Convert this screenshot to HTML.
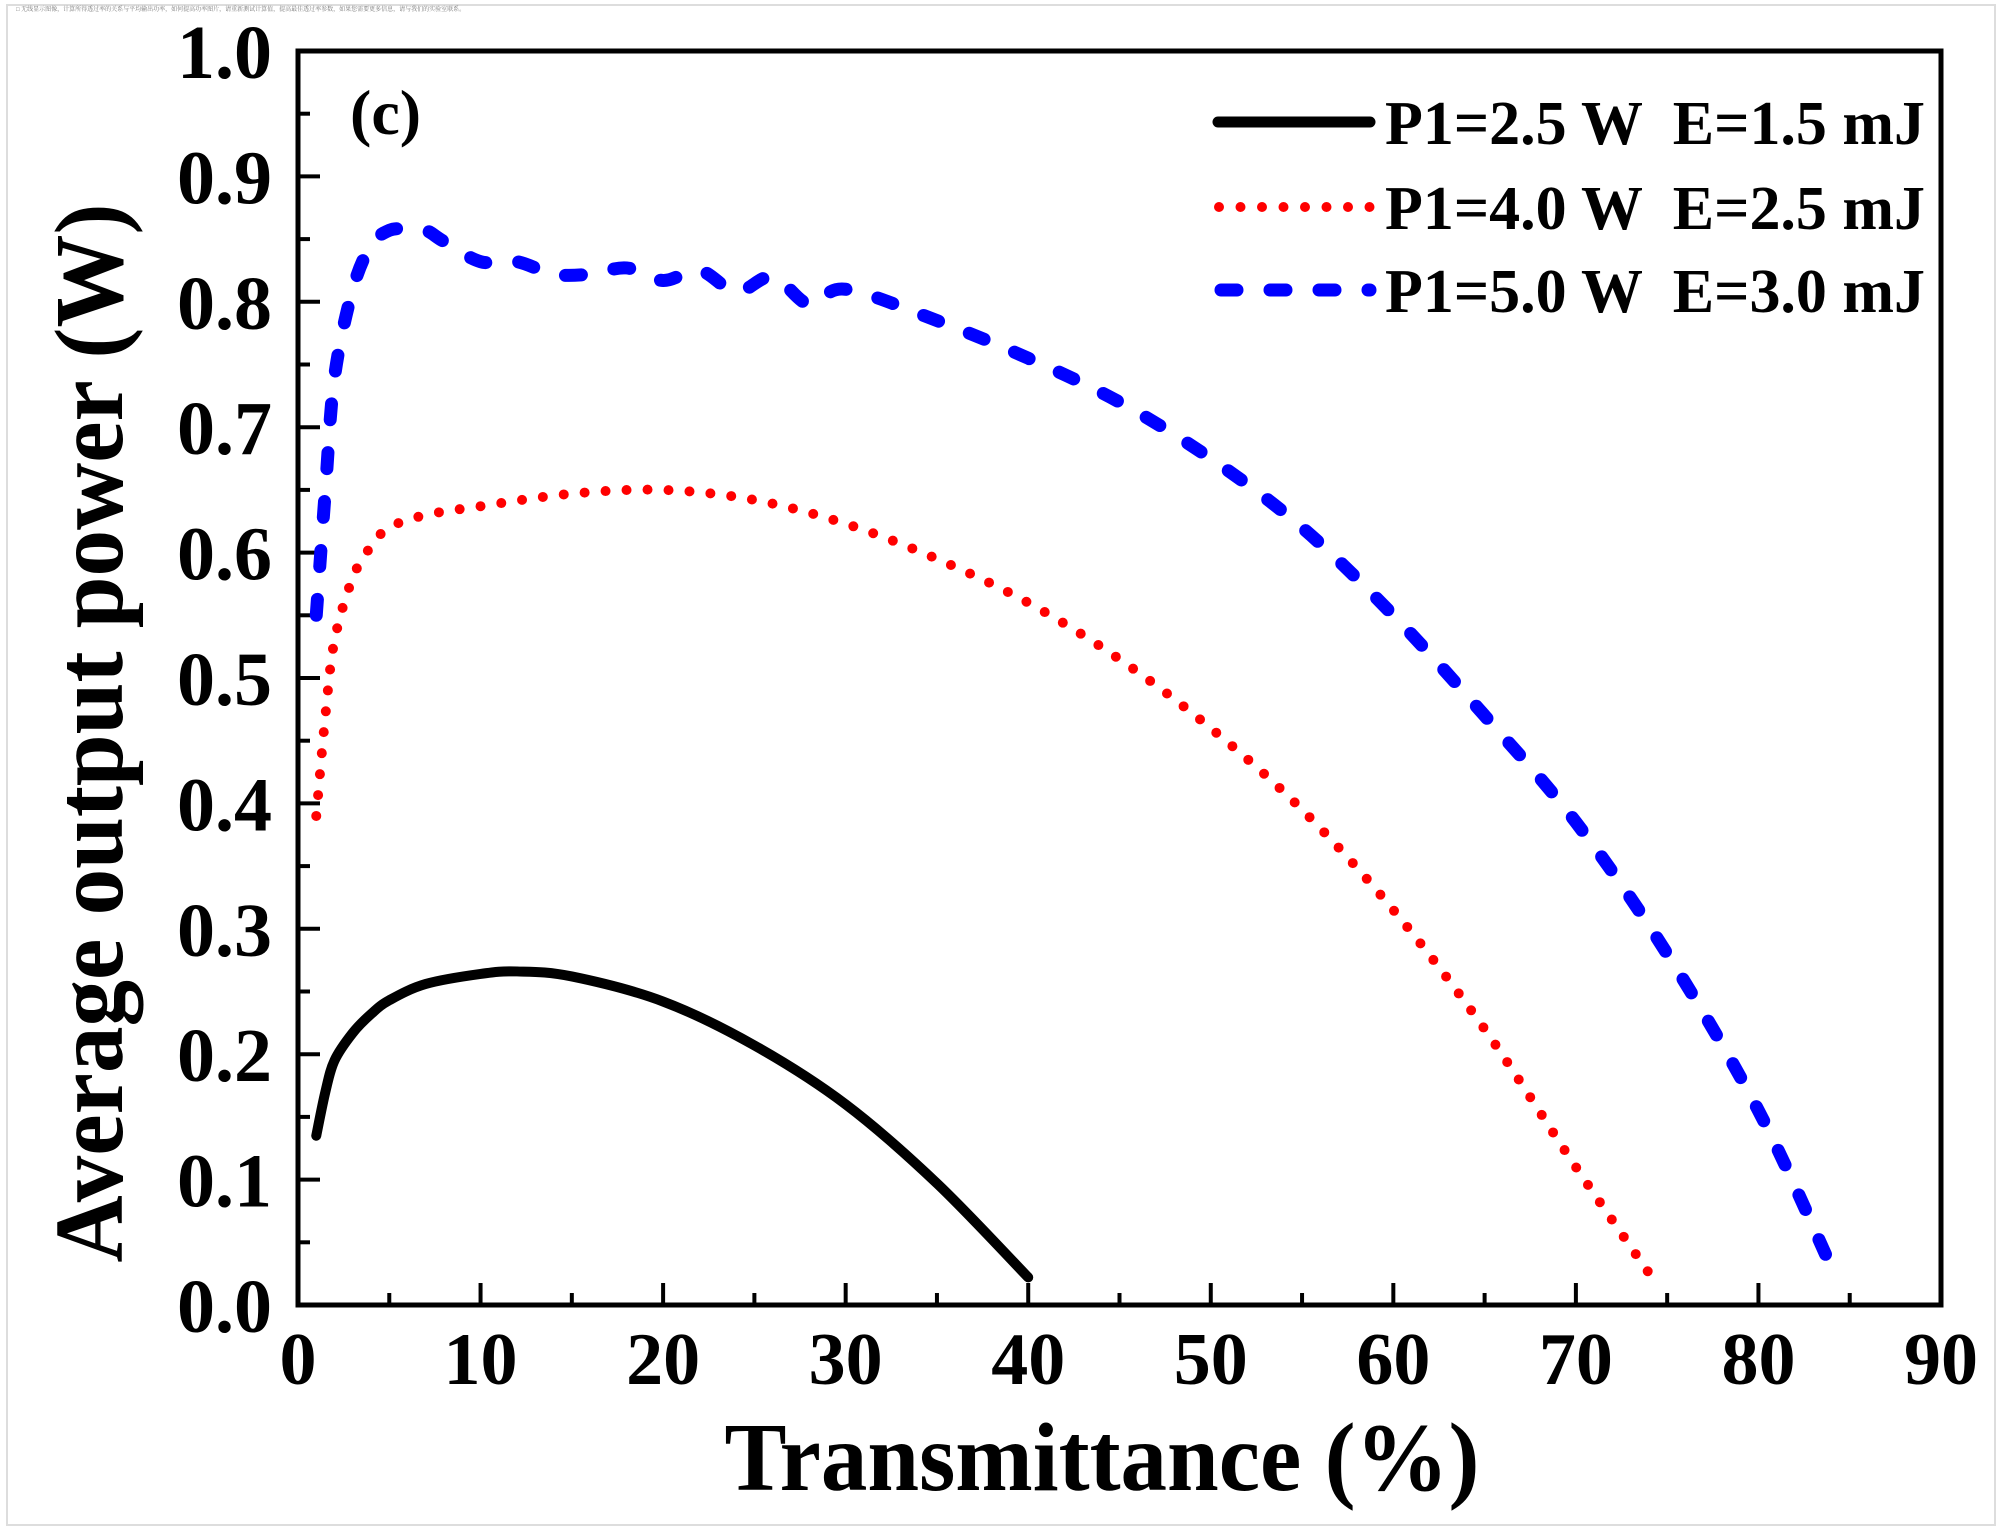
<!DOCTYPE html>
<html><head><meta charset="utf-8"><style>
html,body{margin:0;padding:0;background:#fff;}
svg{display:block;}
text{font-family:"Liberation Serif","Noto Serif CJK SC",serif;font-weight:bold;fill:#000;white-space:pre;}
</style></head><body>
<svg id="chart" width="2000" height="1530" viewBox="0 0 2000 1530" xmlns="http://www.w3.org/2000/svg">
<rect x="7" y="5" width="1988" height="1520" fill="none" stroke="#ddd" stroke-width="2"/>
<text x="16" y="11" style="font-size:6px;font-weight:normal;fill:#777">□ 无线显示图像，计算所得透过率的关系与平均输出功率，如何提高功率图片，请重新测试计算值，提高最佳透过率参数，如果您需要更多信息，请与我们的实验室联系。</text>
<g id="plot"></g>
<rect x="298" y="51" width="1643" height="1254" fill="none" stroke="#000" stroke-width="5"/>
<text x="350" y="134" style="font-size:64px">(c)</text>
<text x="1102" y="1490" text-anchor="middle" style="font-size:97px" textLength="755" lengthAdjust="spacingAndGlyphs">Transmittance (%)</text>
<text transform="translate(122,733) rotate(-90)" text-anchor="middle" style="font-size:97px" textLength="1059" lengthAdjust="spacingAndGlyphs">Average output power (W)</text>
<g>
<line x1="1218" y1="122" x2="1370" y2="122" stroke="#000" stroke-width="11" stroke-linecap="round"/>
<text x="1385" y="144" style="font-size:62px" textLength="540" lengthAdjust="spacingAndGlyphs">P1=2.5 W  E=1.5 mJ</text>
<line x1="1219" y1="207" x2="1370" y2="207" stroke="#f00" stroke-width="10" stroke-linecap="round" stroke-dasharray="0 21.5"/>
<text x="1385" y="229" style="font-size:62px" textLength="540" lengthAdjust="spacingAndGlyphs">P1=4.0 W  E=2.5 mJ</text>
<line x1="1221" y1="290" x2="1370" y2="290" stroke="#00f" stroke-width="13" stroke-linecap="round" stroke-dasharray="16 33"/>
<text x="1385" y="312" style="font-size:62px" textLength="540" lengthAdjust="spacingAndGlyphs">P1=5.0 W  E=3.0 mJ</text>
</g>
</svg>
<script>
const xTicks=[0,10,20,30,40,50,60,70,80,90];
const yTicks=[0.0,0.1,0.2,0.3,0.4,0.5,0.6,0.7,0.8,0.9,1.0];
const blackX=[1,1.5,2,3,4,5,7,10,12,15,20,25,30,35,40];
const blackY=[0.135,0.17,0.195,0.217,0.232,0.243,0.256,0.264,0.266,0.262,0.242,0.207,0.16,0.097,0.022];
const redX=[1,1.5,2,3,4,5,7,10,15,20,25,30,35,40,45,50,55,60,65,70,74.5];
const redY=[0.39,0.47,0.53,0.58,0.605,0.62,0.63,0.637,0.647,0.65,0.642,0.623,0.595,0.56,0.515,0.46,0.395,0.315,0.22,0.11,0.015];
const blueX=[1,1.5,2,3,4,5,6,7,8,10,12,14,16,18,20,22,24,26,28,30,35,40,45,50,55,60,65,70,75,80,84];
const blueY=[0.55,0.65,0.74,0.81,0.845,0.857,0.858,0.857,0.848,0.832,0.832,0.822,0.822,0.827,0.817,0.825,0.808,0.82,0.798,0.81,0.785,0.755,0.72,0.675,0.62,0.55,0.47,0.385,0.28,0.155,0.03];
const L=298,R=1941,T=51,B=1305;
const sx=v=>L+(v-0)/(90-0)*(R-L);
const sy=v=>B-(v-0)/(1-0)*(B-T);
const NS='http://www.w3.org/2000/svg';
const g=document.getElementById('plot');
function mk(tag,attrs){const e=document.createElementNS(NS,tag);for(const k in attrs)e.setAttribute(k,attrs[k]);g.appendChild(e);return e;}
xTicks.forEach((v,i)=>{
  const t=mk('line',{x1:sx(v),x2:sx(v),y1:B,y2:B-22,stroke:'#000','stroke-width':4});
  
  
  if(i<xTicks.length-1){const m=mk('line',{x1:sx(v+5),x2:sx(v+5),y1:B,y2:B-12,stroke:'#000','stroke-width':4});
  
  }
  const lb=mk('text',{x:sx(v),y:1384,'text-anchor':'middle',style:'font-size:74px'});lb.textContent=String(v);
  
  
});
yTicks.forEach((v,i)=>{
  const t=mk('line',{x1:L,x2:L+22,y1:sy(v),y2:sy(v),stroke:'#000','stroke-width':4});
  
  
  if(i<yTicks.length-1){const m=mk('line',{x1:L,x2:L+12,y1:sy(v+0.05),y2:sy(v+0.05),stroke:'#000','stroke-width':4});
  
  }
  const lb=mk('text',{x:272,y:sy(v)+27,'text-anchor':'end',style:'font-size:76px'});lb.textContent=v.toFixed(1);
  
  
});
function path(xs,ys){
  const p=xs.map((x,i)=>[sx(x),sy(ys[i])]);
  let d='M'+p[0][0]+','+p[0][1];
  for(let i=0;i<p.length-1;i++){
    const p0=p[i-1]||p[i],p1=p[i],p2=p[i+1],p3=p[i+2]||p2;
    d+=' C'+(p1[0]+(p2[0]-p0[0])/6)+','+(p1[1]+(p2[1]-p0[1])/6)+' '+(p2[0]-(p3[0]-p1[0])/6)+','+(p2[1]-(p3[1]-p1[1])/6)+' '+p2[0]+','+p2[1];
  }
  return d;
}
const s1=mk('path',{d:path(blackX,blackY),fill:'none',stroke:'#000','stroke-width':10,'stroke-linecap':'round','stroke-linejoin':'round'});


const s2=mk('path',{d:path(redX,redY),fill:'none',stroke:'#f00','stroke-width':10,'stroke-linecap':'round','stroke-dasharray':'0 21'});


const s3=mk('path',{d:path(blueX,blueY),fill:'none',stroke:'#00f','stroke-width':13,'stroke-linecap':'round','stroke-dasharray':'16 33'});


</script>
</body></html>
